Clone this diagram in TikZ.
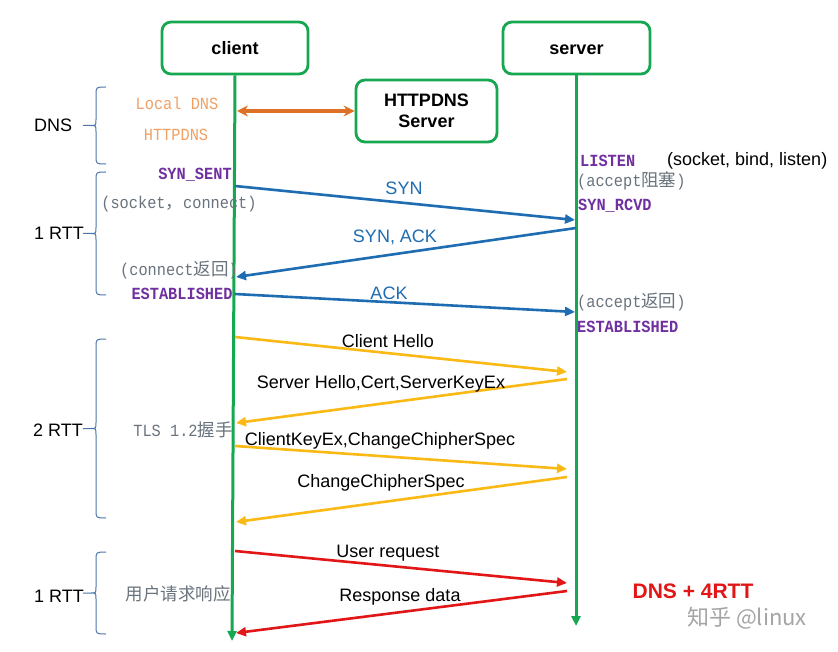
\documentclass[tikz,border=0pt]{standalone}
\usepackage{fontspec}
\setmainfont{Liberation Sans}
\newfontfamily\monof[FakeStretch=0.9]{Liberation Mono}
\newfontfamily\cjk{Noto Sans CJK SC}
\usetikzlibrary{arrows.meta}
\definecolor{lgreen}{RGB}{22,168,80}
\definecolor{tcpblue}{RGB}{30,108,178}
\definecolor{tlsgold}{RGB}{250,185,20}
\definecolor{reqred}{RGB}{226,22,22}
\definecolor{dnsorange}{RGB}{222,112,40}
\definecolor{lorange}{RGB}{240,160,100}
\definecolor{purp}{RGB}{112,48,160}
\definecolor{grayt}{RGB}{105,115,125}
\definecolor{bracec}{RGB}{75,118,172}
\newcommand\zh[1]{{\cjk\fontsize{17.5}{20}\selectfont #1}}
\newcommand\rttbrace[2]{%
  \draw[bracestyle] (106,#1) .. controls (96,#1) .. (96,#1+8)
    -- (96,{(#1+#2)/2-6}) .. controls (96,{(#1+#2)/2}) .. (91,{(#1+#2)/2}) -- (83,{(#1+#2)/2})
    -- (91,{(#1+#2)/2}) .. controls (96,{(#1+#2)/2}) .. (96,{(#1+#2)/2+6})
    -- (96,#2-8) .. controls (96,#2) .. (106,#2);}
\begin{document}
\begin{tikzpicture}[x=1pt,y=-1pt,
  box/.style={draw=lgreen, line width=2.8pt, rounded corners=9pt, align=center,
    font=\fontsize{18}{21}\selectfont\bfseries, inner sep=0pt},
  life/.style={draw=lgreen, line width=3pt, -{Triangle[length=10pt,width=9pt]}},
  msg/.style={line width=2.6pt, -{Triangle[length=10pt,width=9pt]}},
  tcpmsg/.style={msg, draw=tcpblue},
  tlsmsg/.style={msg, draw=tlsgold},
  datamsg/.style={msg, draw=reqred},
  lbl/.style={font=\fontsize{18}{20}\selectfont, inner sep=0pt},
  tcplbl/.style={lbl, text=tcpblue},
  mono/.style={font=\fontsize{17}{19}\monof, inner sep=0pt},
  statelbl/.style={font=\fontsize{17}{19}\monof\bfseries, inner sep=0pt, text=purp},
  notelbl/.style={mono, text=grayt},
  dnslbl/.style={mono, text=lorange},
  bracestyle/.style={draw=bracec, line width=1pt},
]
\useasboundingbox (0,0) rectangle (838,652);
\fill[white] (0,0) rectangle (838,652);

% boxes
\node[box, minimum width=146pt, minimum height=52pt, text height=15pt, text depth=2pt] (client) at (235,48) {client};
\node[box, minimum width=147pt, minimum height=52pt, text height=15pt, text depth=2pt] (server) at (576.5,48) {server};
\node[box, minimum width=141pt, minimum height=62pt] (hdns) at (426.5,111) {HTTPDNS\\Server};

% lifelines
\coordinate (cend) at (232,641);
\coordinate (send) at (576,626);
\draw[life] (client.south) -- (cend);
\draw[life] (576,74) -- (send);

% DNS
\coordinate (dnsL) at (237,111);
\draw[draw=dnsorange, line width=3.5pt, {Stealth[length=11pt,width=11pt]}-{Stealth[length=11pt,width=11pt]}] (dnsL) -- (hdns.west);
\node[dnslbl] (localdns) at (177,103) {Local DNS};
\node[dnslbl] (httpdnsl) at (176,135) {HTTPDNS};

% TCP
\coordinate (c1) at (235,186); \coordinate (s1) at (575,220);
\coordinate (s2) at (576,228); \coordinate (c2) at (236,277);
\coordinate (c3) at (235,294); \coordinate (s3) at (575,312);
\draw[tcpmsg] (c1) -- (s1);
\draw[tcpmsg] (s2) -- (c2);
\draw[tcpmsg] (c3) -- (s3);
\node[tcplbl] (synl) at (404,188) {SYN};
\node[tcplbl] (synackl) at (395,237) {SYN, ACK};
\node[tcplbl] (ackl) at (389,293) {ACK};

\node[statelbl] (synsent) at (195,175) {SYN\_SENT};
\node[notelbl] (sockconn) at (179,204) {(socket\zh{，}connect)};
\node[notelbl] (connret) at (179,270) {(connect\zh{返回})};
\node[statelbl] (estc) at (182,294) {ESTABLISHED};

\node[statelbl, anchor=west] (listen) at (580,161) {LISTEN};
\node[lbl, anchor=west] (sbl) at (667,161) {(socket, bind, listen)};
\node[notelbl, anchor=west] (acblk) at (577,181) {(accept\zh{阻塞})};
\node[statelbl, anchor=west] (synrcvd) at (578,206) {SYN\_RCVD};
\node[notelbl, anchor=west] (acret) at (577,302) {(accept\zh{返回})};
\node[statelbl, anchor=west] (ests) at (577,327) {ESTABLISHED};

% TLS
\coordinate (c4) at (235,337); \coordinate (s4) at (567,372);
\coordinate (s5) at (567,379); \coordinate (c5) at (236,423);
\coordinate (c6) at (235,446); \coordinate (s6) at (567,469);
\coordinate (s7) at (567,477); \coordinate (c7) at (236,522);
\draw[tlsmsg] (c4) -- (s4);
\draw[tlsmsg] (s5) -- (c5);
\draw[tlsmsg] (c6) -- (s6);
\draw[tlsmsg] (s7) -- (c7);
\node[lbl] (chl) at (388,341) {Client Hello};
\node[lbl] (shl) at (381,384) {Server Hello,Cert,ServerKeyEx};
\node[lbl] (ckl) at (380,441) {ClientKeyEx,ChangeChipherSpec};
\node[lbl] (ccl) at (381,483) {ChangeChipherSpec};
\node[notelbl] (tlsl) at (183,430) {TLS 1.2\zh{握手}};

% data
\coordinate (c8) at (235,551); \coordinate (s8) at (567,583);
\coordinate (s9) at (567,591); \coordinate (c9) at (236,633);
\draw[datamsg] (c8) -- (s8);
\draw[datamsg] (s9) -- (c9);
\node[lbl] (urq) at (388,553) {User request};
\node[lbl] (rsd) at (400,597) {Response data};
\node[inner sep=0pt, text=grayt] (userl) at (178,594) {\zh{用户请求响应}};

% braces and phase labels
\rttbrace{87}{164}
\rttbrace{172}{295}
\rttbrace{339}{518}
\rttbrace{552}{634}
\node[lbl, anchor=west] (dnsph) at (34,125) {DNS};
\node[lbl, anchor=west] (rtt1) at (34,233) {1 RTT};
\node[lbl, anchor=west] (rtt2) at (33,430) {2 RTT};
\node[lbl, anchor=west] (rtt3) at (34,596) {1 RTT};

\node[font=\fontsize{21}{24}\selectfont\bfseries, text=reqred, inner sep=0pt] (total) at (693,591) {DNS + 4RTT};
\node[font=\cjk\fontsize{22}{24}\selectfont, text={rgb,255:red,165;green,165;blue,165}, inner sep=0pt] (wm) at (747,618) {知乎 @linux};
\end{tikzpicture}
\end{document}
